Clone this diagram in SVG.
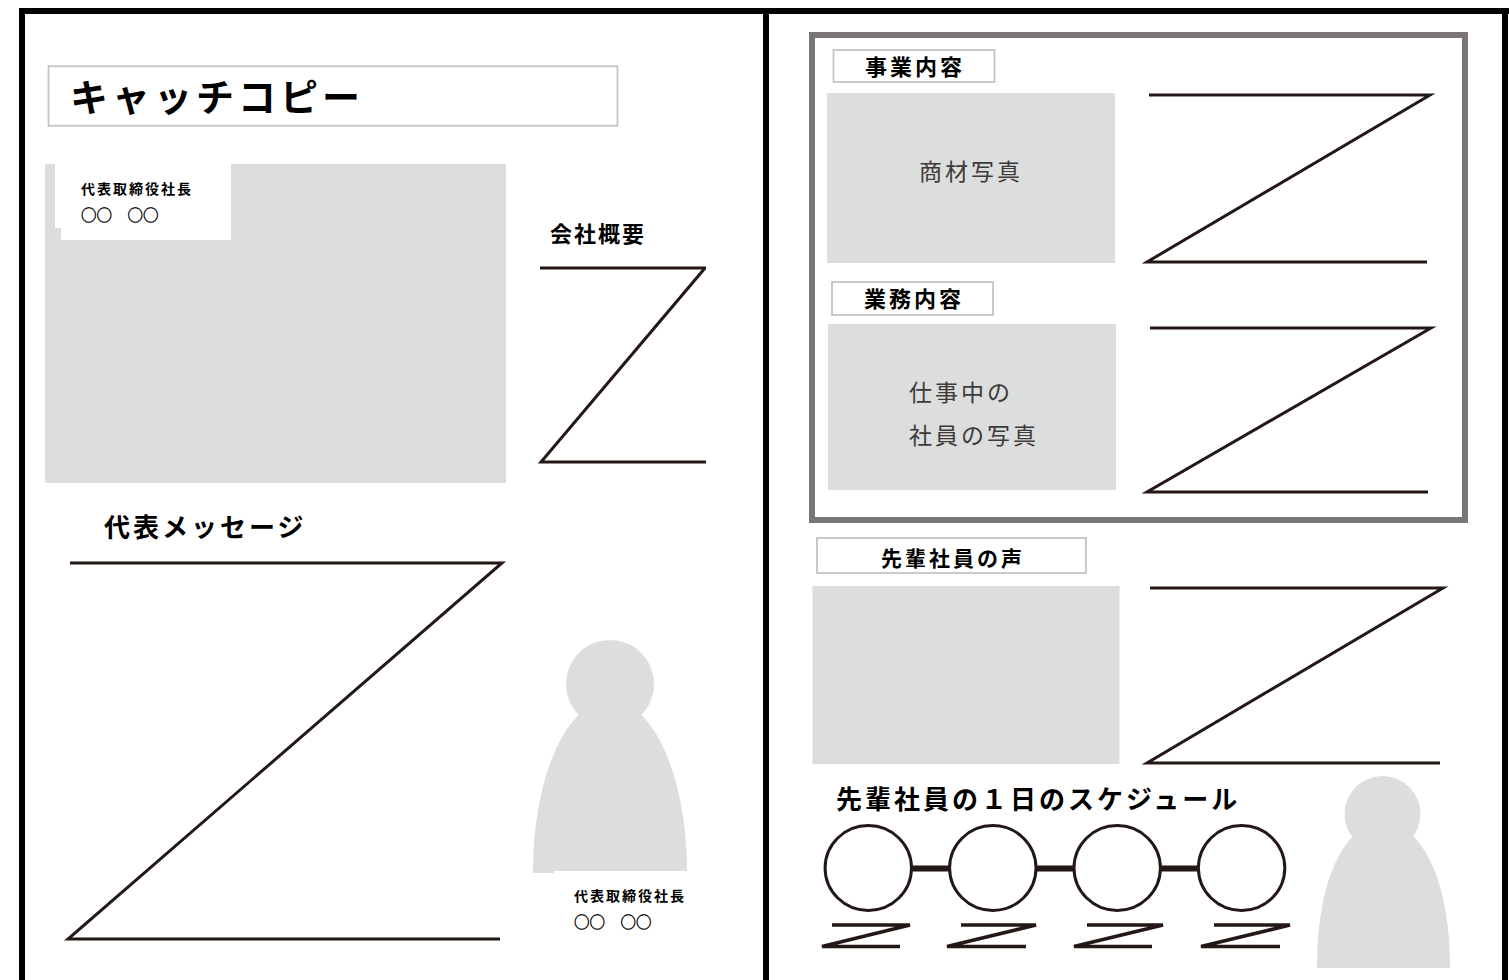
<svg xmlns="http://www.w3.org/2000/svg" width="1509" height="980" viewBox="0 0 1509 980">
<style>
.bd{fill:#000}
.ph{fill:#dcdddd}
.z{fill:none;stroke:#231815;stroke-width:3;stroke-linejoin:miter;stroke-miterlimit:10}
.zs{fill:none;stroke:#231815;stroke-width:3.5;stroke-linejoin:bevel}
.lb{fill:#fff;stroke:#c4c4c4;stroke-width:1.8}
.h{font-family:"Noto Sans CJK JP","Noto Sans CJK SC",sans-serif;font-weight:700;fill:#000}
.cap{font-family:"Noto Sans CJK JP","Noto Sans CJK SC",sans-serif;font-weight:400;fill:#3e3a39;font-size:23px;letter-spacing:3px}
.nm{font-family:"Noto Sans CJK JP","Noto Sans CJK SC",sans-serif;fill:#000;stroke:#000;stroke-width:0.4}
.ring{fill:#fff;stroke:#231815;stroke-width:3}
.bar{stroke:#231815;stroke-width:6}
</style>
<defs>
<clipPath id="clipL"><rect x="0" y="0" width="706" height="980"/></clipPath>
</defs>
<rect width="1509" height="980" fill="#fff"/>

<g id="page-border">
<rect class="bd" x="19" y="8" width="1490" height="6"/>
<rect class="bd" x="19" y="8" width="6" height="972"/>
<rect class="bd" x="763" y="8" width="6" height="972"/>
<rect class="bd" x="1502" y="8" width="6" height="972"/>
</g>

<g id="catchcopy">
<rect class="lb" x="48.5" y="66.3" width="569" height="59.4" stroke-width="2"/>
<text class="h" x="70" y="111" font-size="38" letter-spacing="4">キャッチコピー</text>
</g>

<g id="president-photo">
<rect class="ph" x="45" y="164" width="461" height="319"/>
<rect fill="#fff" x="55" y="164" width="176" height="64"/>
<rect fill="#fff" x="61" y="164" width="170" height="76"/>
<text class="h" x="81" y="194" font-size="14" letter-spacing="2">代表取締役社長</text>
<text class="nm" x="81" y="221" font-size="15.5">○○　○○</text>
</g>

<g id="company-overview">
<text class="h" x="550" y="242" font-size="22" letter-spacing="2">会社概要</text>
<polyline class="z" clip-path="url(#clipL)" points="540,268 705,268 541,462 708,462"/>
</g>

<g id="president-message">
<text class="h" x="104" y="537" font-size="26" letter-spacing="3">代表メッセージ</text>
<polyline class="z" points="70,563 502,563 68,939 500,939"/>
</g>

<g id="president-figure">
<circle class="ph" cx="610" cy="684" r="44"/>
<path class="ph" d="M533 873 C533 770 570 700 610 700 C650 700 687 770 687 873 Z"/>
<rect fill="#fff" x="554" y="871" width="160" height="75"/>
<text class="h" x="574" y="901" font-size="14" letter-spacing="2">代表取締役社長</text>
<text class="nm" x="574" y="928" font-size="15.5">○○　○○</text>
</g>

<g id="business-frame">
<rect x="812" y="35" width="653" height="485" fill="none" stroke="#7a7675" stroke-width="6"/>
</g>

<g id="business-content">
<rect class="lb" x="833.5" y="50" width="161" height="32"/>
<text class="h" x="865" y="75" font-size="22" letter-spacing="3">事業内容</text>
<rect class="ph" x="827" y="93" width="288" height="170"/>
<text class="cap" x="919" y="180">商材写真</text>
<polyline class="z" points="1149,95 1430,95 1147,262 1427,262"/>
</g>

<g id="work-content">
<rect class="lb" x="832" y="282" width="161" height="33"/>
<text class="h" x="864" y="307" font-size="22" letter-spacing="3">業務内容</text>
<rect class="ph" x="828" y="324" width="288" height="166"/>
<text class="cap" x="909" y="401">仕事中の</text>
<text class="cap" x="909" y="444">社員の写真</text>
<polyline class="z" points="1150,328 1431,328 1147,492 1428,492"/>
</g>

<g id="senior-voice">
<rect class="lb" x="817" y="538" width="269" height="35"/>
<text class="h" x="881" y="566" font-size="21" letter-spacing="3">先輩社員の声</text>
<rect class="ph" x="812.5" y="586" width="307" height="178"/>
<polyline class="z" points="1150,588 1443,588 1147,763 1440,763"/>
</g>

<g id="schedule-title">
<text class="h" x="836" y="809" font-size="26" letter-spacing="3">先輩社員の１日のスケジュール</text>
</g>

<g id="connectors">
<line class="bar" x1="910" y1="868.5" x2="951" y2="868.5"/>
<line class="bar" x1="1034" y1="868.5" x2="1076" y2="868.5"/>
<line class="bar" x1="1159" y1="868.5" x2="1200" y2="868.5"/>
</g>

<g id="schedule-1">
<ellipse class="ring" cx="868.3" cy="868" rx="43.2" ry="42.4"/>
<polyline class="zs" points="832,925 910,925 822,946.5 900,946.5"/>
</g>
<g id="schedule-2">
<ellipse class="ring" cx="992.8" cy="868" rx="43.2" ry="42.4"/>
<polyline class="zs" points="961,925 1036,925 947,946.5 1026,946.5"/>
</g>
<g id="schedule-3">
<ellipse class="ring" cx="1117.2" cy="868" rx="43.2" ry="42.4"/>
<polyline class="zs" points="1087,925 1163,925 1074,946.5 1152,946.5"/>
</g>
<g id="schedule-4">
<ellipse class="ring" cx="1241.6" cy="868" rx="43.2" ry="42.4"/>
<polyline class="zs" points="1214,925 1290,925 1201,946.5 1280,946.5"/>
</g>

<g id="senior-figure">
<circle class="ph" cx="1382.5" cy="814" r="38"/>
<path class="ph" d="M1317 968 C1317 870 1350 822 1383 822 C1416 822 1450 870 1450 968 Z"/>
</g>
</svg>
